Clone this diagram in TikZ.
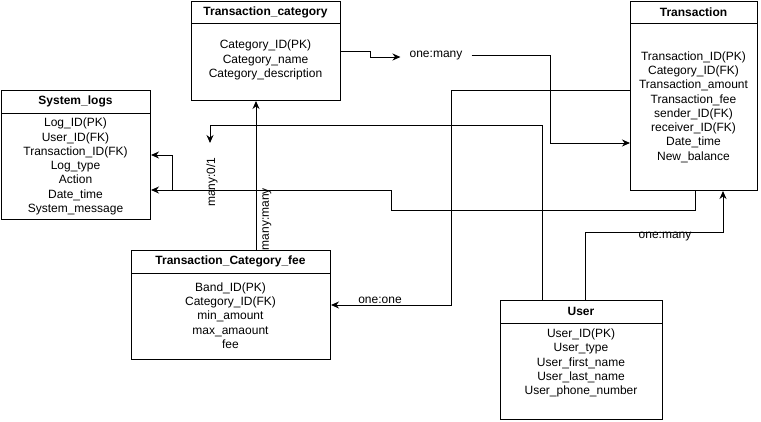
\documentclass[tikz,border=0pt]{standalone}
\usepackage{fontspec}
\setmainfont{Liberation Sans}
\usetikzlibrary{arrows.meta}

\begin{document}
\begin{tikzpicture}[
  x=1pt,y=-1pt,
  font=\fontsize{12}{14.3}\selectfont,
  tbl/.style={draw,line width=1pt,inner sep=0pt,anchor=north west},
  title/.style={font=\fontsize{12}{14}\selectfont\bfseries},
  fields/.style={align=center,inner sep=0pt},
  lbl/.style={inner xsep=9pt,inner ysep=1pt},
  link/.style={line width=1pt,-{Stealth[length=8pt,width=7pt]}},
  >=Stealth
]
  \useasboundingbox (0,0) rectangle (761,421);

  % tables
  \node[tbl,minimum width=149pt,minimum height=99pt] (tcat) at (191,1) {};
  \draw[line width=1pt] ([yshift=-22pt]tcat.north west) -- ([yshift=-22pt]tcat.north east);
  \node[title] (tcat-t) at (265.5,12) {Transaction\_category};
  \node[fields] (tcat-f) at (265.5,60)
    {Category\_ID(PK)\\Category\_name\\Category\_description};

  \node[tbl,minimum width=127pt,minimum height=189pt] (trans) at (630,1) {};
  \draw[line width=1pt] ([yshift=-22pt]trans.north west) -- ([yshift=-22pt]trans.north east);
  \node[title] (trans-t) at (693.5,12) {Transaction};
  \node[fields] (trans-f) at (693.5,107)
    {Transaction\_ID(PK)\\Category\_ID(FK)\\Transaction\_amount\\Transaction\_fee\\
     sender\_ID(FK)\\receiver\_ID(FK)\\Date\_time\\New\_balance};

  \node[tbl,minimum width=149pt,minimum height=129pt] (syslog) at (1,90) {};
  \draw[line width=1pt] ([yshift=-23pt]syslog.north west) -- ([yshift=-23pt]syslog.north east);
  \node[title] (syslog-t) at (75.5,101.5) {System\_logs};
  \node[fields] (syslog-f) at (75.5,166.5)
    {Log\_ID(PK)\\User\_ID(FK)\\Transaction\_ID(FK)\\Log\_type\\Action\\Date\_time\\System\_message};

  \node[tbl,minimum width=199pt,minimum height=109pt] (fee) at (131,250) {};
  \draw[line width=1pt] ([yshift=-23pt]fee.north west) -- ([yshift=-23pt]fee.north east);
  \node[title] (fee-t) at (230.5,261.5) {Transaction\_Category\_fee};
  \node[fields] (fee-f) at (230.5,315.5)
    {Band\_ID(PK)\\Category\_ID(FK)\\min\_amount\\max\_amaount\\fee};

  \node[tbl,minimum width=162pt,minimum height=119pt] (user) at (500,300) {};
  \draw[line width=1pt] ([yshift=-23pt]user.north west) -- ([yshift=-23pt]user.north east);
  \node[title] (user-t) at (581,311.5) {User};
  \node[fields] (user-f) at (581,363)
    {User\_ID(PK)\\User\_type\\User\_first\_name\\User\_last\_name\\User\_phone\_number};

  % labels
  \node[lbl] (onemany1) at (436,56) {one:many};
  \node[lbl] (oneone) at (380,300) {one:one};
  \node[lbl,rotate=90] (many01) at (212,182) {many:0/1};
  \node[lbl,rotate=90] (manymany) at (267,219) {many:many};
  \node[lbl] (onemany2) at (665,237) {one:many};

  \coordinate (m01end) at (210,143);
  \coordinate (jn) at (172,190);

  % relations
  \draw[link] (tcat.east) -- (370,0 |- tcat.east) -- (370,57) -- (onemany1.west |- 0,57);
  \draw[link] (onemany1.east |- 0,55) -- (550,55) -- (550,143) -- (trans.west |- 0,143);
  \draw[link] (trans.west |- 0,90) -- (451,90) -- (451,305) -- (fee.east |- 0,305);
  \draw[link] (542,0 |- user.north) -- (542,125) -- (210,125) -- (m01end);
  \draw[link] (256,0 |- fee.north) -- (256,0 |- tcat.south);
  \draw[link] (695,0 |- trans.south) -- (695,210) -- (391,210) -- (391,190) -- (syslog.east |- 0,190);
  \draw[link] (jn) -- (172,155) -- (syslog.east |- 0,155);
  \draw[link] (585,0 |- user.north) -- (585,232) -- (723,232) -- (723,0 |- trans.south);
\end{tikzpicture}
\end{document}
